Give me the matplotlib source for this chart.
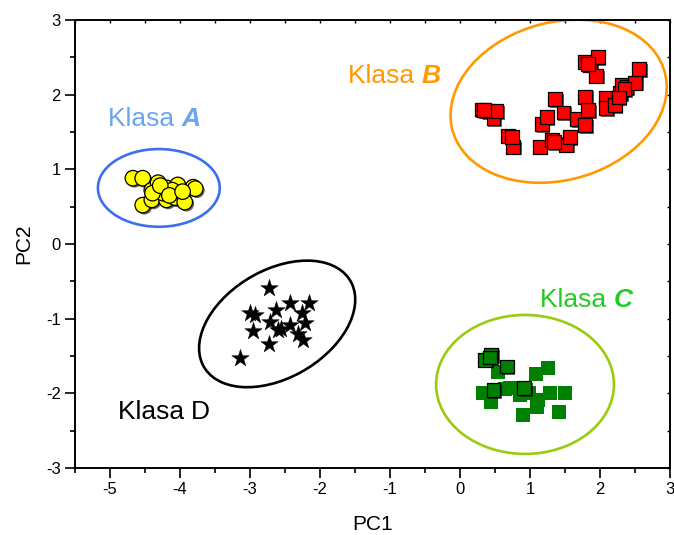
import matplotlib

matplotlib.use("Agg")
import matplotlib.pyplot as plt
import matplotlib.patheffects as pe
from matplotlib.patches import Ellipse
from matplotlib.ticker import MultipleLocator

plt.rcParams["font.family"] = ["Liberation Sans", "DejaVu Sans"]
plt.rcParams["axes.unicode_minus"] = False

# Klasa A - yellow circles
a_pc1 = [-4.67, -4.53, -4.40, -4.31, -4.19, -4.03, -4.00, -3.81, -4.53, -4.40,
         -4.19, -4.07, -3.93, -4.11, -4.24, -4.39, -3.78, -4.28, -4.15, -3.96]
a_pc2 = [0.88, 0.88, 0.72, 0.82, 0.75, 0.79, 0.68, 0.76, 0.52, 0.59,
         0.59, 0.62, 0.56, 0.72, 0.68, 0.68, 0.74, 0.78, 0.65, 0.70]

# Klasa B - red squares
b_pc1 = [0.31, 0.40, 0.48, 0.52, 0.69, 0.76, 1.14, 1.31, 1.52, 1.57,
         1.17, 1.24, 1.36, 1.48, 1.67, 1.79, 1.83, 1.79, 1.79, 1.86,
         1.97, 1.95, 2.08, 2.09, 2.21, 2.29, 2.31, 2.38, 2.50, 2.56,
         0.35, 0.74, 1.83, 2.35, 2.27, 1.35]
b_pc2 = [1.80, 1.78, 1.68, 1.78, 1.45, 1.30, 1.30, 1.39, 1.33, 1.43,
         1.60, 1.70, 1.94, 1.76, 1.67, 1.97, 1.79, 1.59, 2.44, 2.40,
         2.50, 2.25, 1.96, 1.82, 1.86, 2.02, 2.13, 2.10, 2.16, 2.34,
         1.79, 1.43, 2.41, 2.07, 1.96, 1.36]

# Klasa C - green squares (some outlined, some not)
c_edge_pc1 = [0.36, 0.45, 0.67, 0.48, 0.92, 0.43]
c_edge_pc2 = [-1.55, -1.49, -1.64, -1.96, -1.93, -1.52]
c_pc1 = [0.55, 1.09, 1.26, 0.33, 0.45, 0.86, 0.99, 1.12, 1.10, 1.29,
         1.50, 1.42, 0.90, 0.71, 0.64]
c_pc2 = [-1.71, -1.74, -1.66, -2.00, -2.12, -2.02, -2.00, -2.09, -2.18, -2.00,
         -1.99, -2.25, -2.29, -1.93, -1.94]

# Klasa D - black stars
d_pc1 = [-2.72, -3.14, -2.43, -2.15, -2.62, -2.26, -2.93, -2.71, -2.43, -2.21,
         -2.95, -2.60, -2.31, -2.24, -2.72, -2.55, -3.00]
d_pc2 = [-0.59, -1.53, -0.79, -0.79, -0.88, -0.93, -0.95, -1.04, -1.08, -1.06,
         -1.16, -1.15, -1.20, -1.28, -1.34, -1.14, -0.93]

# confidence ellipses: centre, width, height, angle
ell_a = (-4.30, 0.75, 1.74, 1.04, 0)
ell_b = (1.41, 1.91, 3.13, 2.12, 13)
ell_c = (0.93, -1.88, 2.54, 1.86, 0)
ell_d = (-2.61, -1.07, 2.39, 1.46, 27)

shadow = [pe.SimplePatchShadow(offset=(1.2, -1.2), shadow_rgbFace="k", alpha=0.6), pe.Normal()]

fig = plt.figure(figsize=(6.74, 5.35), dpi=100)
ax = fig.add_axes([0.111, 0.125, 0.883, 0.838])

for (cx, cy, w, h, ang), col in [
    (ell_a, "#3b6ff0"),
    (ell_b, "#ff9900"),
    (ell_c, "#99cc11"),
    (ell_d, "black"),
]:
    ax.add_patch(Ellipse((cx, cy), w, h, angle=ang, fill=False, edgecolor=col, lw=1.9))

ax.scatter(a_pc1, a_pc2, s=125, marker="o", facecolor="#ffff00", edgecolor="k",
           linewidth=0.9, path_effects=shadow, zorder=3)
ax.scatter(b_pc1, b_pc2, s=100, marker="s", facecolor="#ff0000", edgecolor="k",
           linewidth=0.9, path_effects=shadow, zorder=3)
ax.scatter(c_pc1, c_pc2, s=100, marker="s", facecolor="#008000", edgecolor="none", zorder=3)
ax.scatter(c_edge_pc1, c_edge_pc2, s=100, marker="s", facecolor="#008000", edgecolor="k",
           linewidth=0.9, path_effects=shadow, zorder=4)
ax.scatter(d_pc1, d_pc2, s=175, marker="*", facecolor="k", edgecolor="k",
           linewidth=0.3, zorder=3)


def klasa(x, y, letter, color, bold=True):
    t = ax.text(x, y, "Klasa ", color=color, fontsize=19, ha="left", va="baseline")
    if bold:
        ax.annotate(letter, xy=(1, 0), xycoords=t, color=color, fontsize=19,
                    fontweight="bold", fontstyle="italic", ha="left", va="bottom")
    else:
        ax.annotate(letter, xy=(1, 0), xycoords=t, color=color, fontsize=19,
                    ha="left", va="bottom")


klasa(-5.03, 1.58, "A", "#6aa6f0")
klasa(-1.60, 2.16, "B", "#ff9900")
klasa(1.14, -0.84, "C", "#22cc22")
klasa(-4.89, -2.34, "D", "black", bold=False)

ax.set_xlim(-5.5, 3)
ax.set_ylim(-3, 3)
ax.xaxis.set_major_locator(MultipleLocator(1))
ax.xaxis.set_minor_locator(MultipleLocator(0.5))
ax.yaxis.set_major_locator(MultipleLocator(1))
ax.yaxis.set_minor_locator(MultipleLocator(0.5))
ax.tick_params(which="major", direction="out", length=7, width=1.2, labelsize=12, pad=3)
ax.tick_params(which="minor", direction="out", length=3.6, width=1.2)
for s in ax.spines.values():
    s.set_linewidth(1.4)

# small inward ticks on the top and right frame
sec_x = ax.secondary_xaxis("top")
sec_x.xaxis.set_major_locator(MultipleLocator(0.5))
sec_x.tick_params(direction="in", length=2.5, width=1.0, labeltop=False)
sec_x.spines["top"].set_visible(False)
sec_y = ax.secondary_yaxis("right")
sec_y.yaxis.set_major_locator(MultipleLocator(0.5))
sec_y.tick_params(direction="in", length=2.5, width=1.0, labelright=False)
sec_y.spines["right"].set_visible(False)

ax.set_xlabel("PC1", fontsize=15, labelpad=13)
ax.set_ylabel("PC2", fontsize=15, labelpad=9)

fig.savefig("out.png", dpi=100)
